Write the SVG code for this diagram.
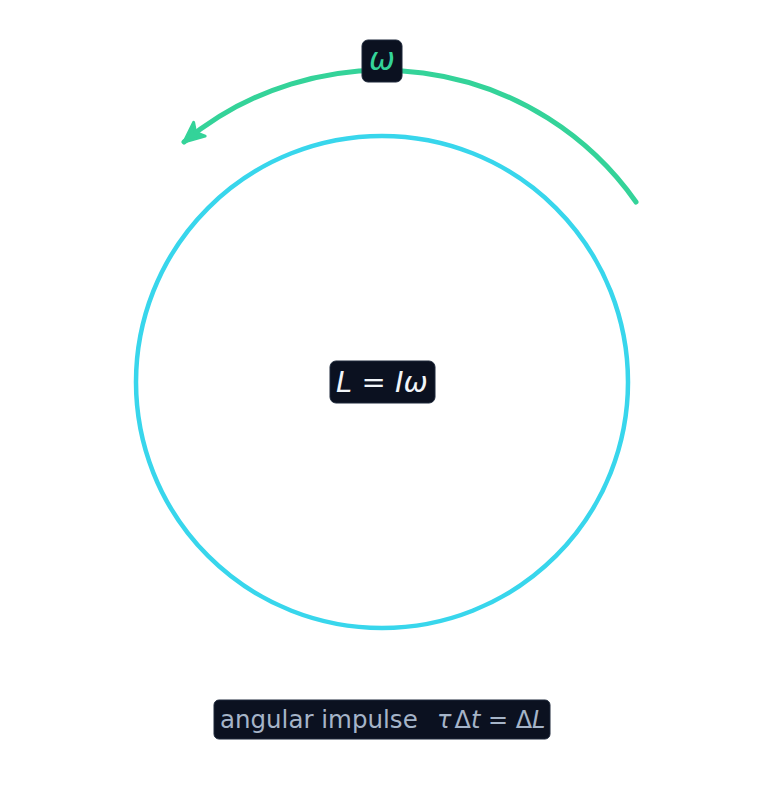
<svg xmlns="http://www.w3.org/2000/svg" width="764" height="786" viewBox="0 0 764 786">
<style>
.box{fill:#0b1120;stroke:#1e293b;stroke-width:1}
.t{font-family:"DejaVu Sans",sans-serif}
.it{font-style:italic}
</style>
<defs>
<marker id="ah" markerUnits="userSpaceOnUse" markerWidth="30" markerHeight="26" refX="22" refY="12" orient="auto">
<path d="M2,3 L22,12 L2,21 L7,12 Z" fill="#34d399" stroke="#34d399" stroke-width="3" stroke-linejoin="round"/>
</marker>
</defs>
<rect width="764" height="786" fill="#ffffff"/>
<g id="connectors">
<path d="M636,202 A310,310 0 0 0 184,142" fill="none" stroke="#34d399" stroke-width="5" stroke-linecap="round" marker-end="url(#ah)"/>
</g>
<g id="wheel">
<circle cx="382" cy="382" r="246" fill="none" stroke="#38d6ec" stroke-width="4.5"/>
</g>
<g id="omega">
<rect class="box" x="362" y="40" width="40" height="42" rx="6"/>
<text class="t it" x="382" y="70" font-size="31" fill="#34d399" text-anchor="middle">ω</text>
</g>
<g id="momentum">
<rect class="box" x="330" y="361" width="105" height="42" rx="6"/>
<text class="t" x="382" y="392" font-size="29" fill="#f1f5f9" text-anchor="middle" xml:space="preserve"><tspan class="it">L</tspan> = <tspan class="it">Iω</tspan></text>
</g>
<g id="impulse">
<rect class="box" x="214" y="700" width="336" height="39" rx="5"/>
<text class="t" x="220" y="728" font-size="24.5" fill="#a5b4c8" xml:space="preserve">angular impulse <tspan x="437" font-size="24" class="it">τ</tspan><tspan dx="3" font-size="24">Δ</tspan><tspan font-size="24" class="it">t</tspan><tspan font-size="24"> = Δ</tspan><tspan font-size="24" class="it">L</tspan></text>
</g>
</svg>
